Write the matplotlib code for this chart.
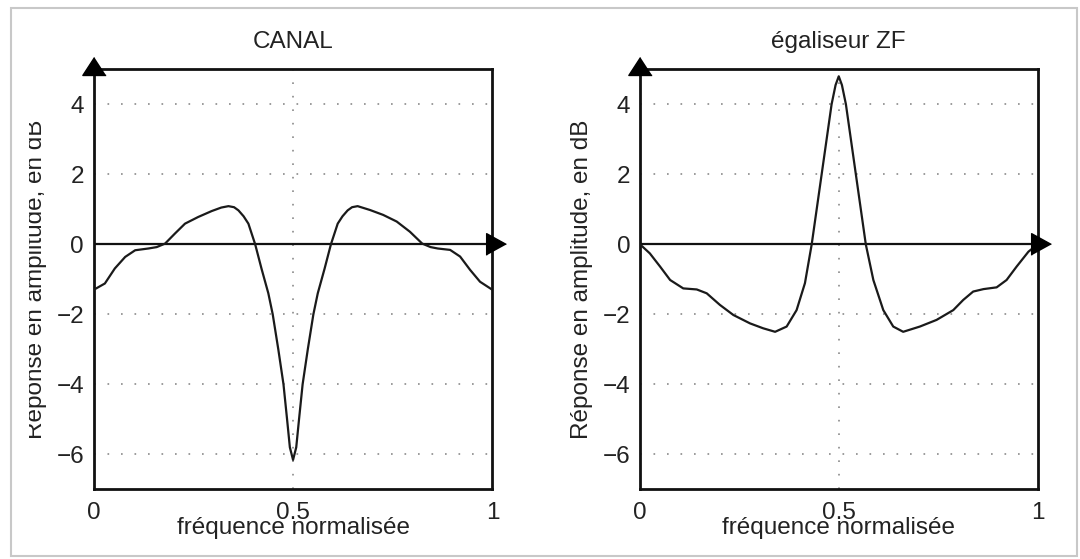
import matplotlib
matplotlib.use("Agg")
import matplotlib.pyplot as plt
from matplotlib.patches import Rectangle

# channel response, dB (normalised frequency 0..1)
freq_canal = [0.000, 0.028, 0.053, 0.079, 0.104, 0.137, 0.158, 0.179, 0.204, 0.229,
              0.262, 0.296, 0.320, 0.338, 0.352, 0.363, 0.376, 0.388, 0.405, 0.421,
              0.438, 0.449, 0.463, 0.476, 0.485, 0.492, 0.500,
              0.508, 0.515, 0.524, 0.537, 0.551, 0.562, 0.579, 0.595, 0.612, 0.624,
              0.637, 0.648, 0.662, 0.693, 0.726, 0.760, 0.793, 0.824, 0.845, 0.863,
              0.894, 0.919, 0.944, 0.969, 1.000]
gain_canal = [-1.30, -1.12, -0.69, -0.36, -0.17, -0.12, -0.08, 0.02, 0.31, 0.59,
              0.78, 0.95, 1.05, 1.09, 1.06, 0.97, 0.80, 0.59, 0.00, -0.70,
              -1.40, -2.00, -3.00, -4.00, -5.00, -5.80, -6.16,
              -5.80, -5.00, -4.00, -3.00, -2.00, -1.40, -0.70, 0.00, 0.59, 0.80,
              0.97, 1.06, 1.09, 0.98, 0.84, 0.65, 0.36, 0.02, -0.08, -0.12,
              -0.16, -0.35, -0.73, -1.07, -1.30]

# zero-forcing equaliser response, dB
freq_zf = [0.000, 0.005, 0.025, 0.051, 0.076, 0.109, 0.143, 0.168, 0.201, 0.235,
           0.277, 0.310, 0.340, 0.369, 0.394, 0.415, 0.432, 0.457, 0.482, 0.492,
           0.500,
           0.508, 0.518, 0.543, 0.568, 0.587, 0.612, 0.637, 0.662, 0.704, 0.746,
           0.788, 0.813, 0.838, 0.864, 0.897, 0.922, 0.947, 0.977, 1.000]
gain_zf = [0.00, -0.05, -0.26, -0.64, -1.02, -1.26, -1.29, -1.40, -1.73, -2.02,
           -2.26, -2.40, -2.50, -2.35, -1.88, -1.11, 0.00, 2.00, 4.00, 4.55,
           4.80,
           4.55, 4.00, 2.00, 0.00, -1.02, -1.88, -2.35, -2.50, -2.35, -2.16,
           -1.88, -1.59, -1.35, -1.28, -1.23, -1.02, -0.64, -0.21, 0.00]

yticks = [-6, -4, -2, 0, 2, 4]
xticks = [0, 0.5, 1]
xtick_labels = ["0", "0.5", "1"]
titles = ["CANAL", "égaliseur ZF"]
xlabel = "fréquence normalisée"
ylabel = "Réponse en amplitude, en dB"

plt.rcParams["font.family"] = ["Liberation Sans", "DejaVu Sans"]
plt.rcParams["font.size"] = 17.5
plt.rcParams["text.color"] = "#222222"

W, H = 1080, 559
fig = plt.figure(figsize=(W / 100, H / 100), dpi=100)


def px_rect(x0, x1, ytop, ybot):
    return [x0 / W, 1 - ybot / H, (x1 - x0) / W, (ybot - ytop) / H]


def draw_panel(ax, f, g, title):
    ax.set_xlim(0, 1)
    ax.set_ylim(-7, 5)
    grid_kw = dict(color="#8a8a8a", lw=1.2, ls=(0, (1, 7.1)), zorder=1)
    for y in yticks:
        ax.axhline(y, **grid_kw)
    ax.axvline(0.5, **grid_kw)
    ax.axhline(0, color="#111111", lw=1.6, zorder=2)
    ax.plot(f, g, color="#1a1a1a", lw=1.6, zorder=3)

    # axis arrows
    up = [(0, 1), (-1.3, -1), (1.3, -1)]
    right = [(1, 0), (-1, 1.1), (-1, -1.1)]
    ax.plot([0], [5.089], marker=up, ms=16.8, color="k", clip_on=False, zorder=6)
    ax.plot([1.008], [0], marker=right, ms=15.6, color="k", clip_on=False, zorder=6)

    for s in ax.spines.values():
        s.set_linewidth(2.0)
        s.set_color("#111111")
    ax.set_xticks(xticks, xtick_labels)
    ax.set_yticks(yticks)
    ax.tick_params(axis="x", length=0, pad=9.5, colors="#222222")
    ax.tick_params(axis="y", length=0, pad=7, colors="#222222")

    ax.text(0.5, 1 + 27.6 / 420, title, transform=ax.transAxes,
            ha="center", va="center")
    ax.text(0.5, -38.7 / 420, xlabel, transform=ax.transAxes,
            ha="center", va="center")
    lab = ax.text(-57.5 / 398, 0.5, ylabel, transform=ax.transAxes, rotation=90,
                  ha="center", va="center")
    return lab


ax1 = fig.add_axes(px_rect(93.7, 492.4, 69.3, 489.3))
ax2 = fig.add_axes(px_rect(639.9, 1037.6, 69.3, 489.3))
lab1 = draw_panel(ax1, freq_canal, gain_canal, titles[0])
draw_panel(ax2, freq_zf, gain_zf, titles[1])

# the left-hand label is cut along its top edge
clip = Rectangle((28.5 / W, 0), 1, 1, transform=fig.transFigure)
lab1.set_clip_path(clip)
lab1.set_clip_on(True)

# light frame around the figure
fig.patches.append(Rectangle((11 / W, 1 - 556 / H), (1077 - 11) / W, (556 - 8) / H,
                             transform=fig.transFigure, fill=False,
                             ec="#c8c8c8", lw=1.5))

fig.savefig("out.png", dpi=100)
